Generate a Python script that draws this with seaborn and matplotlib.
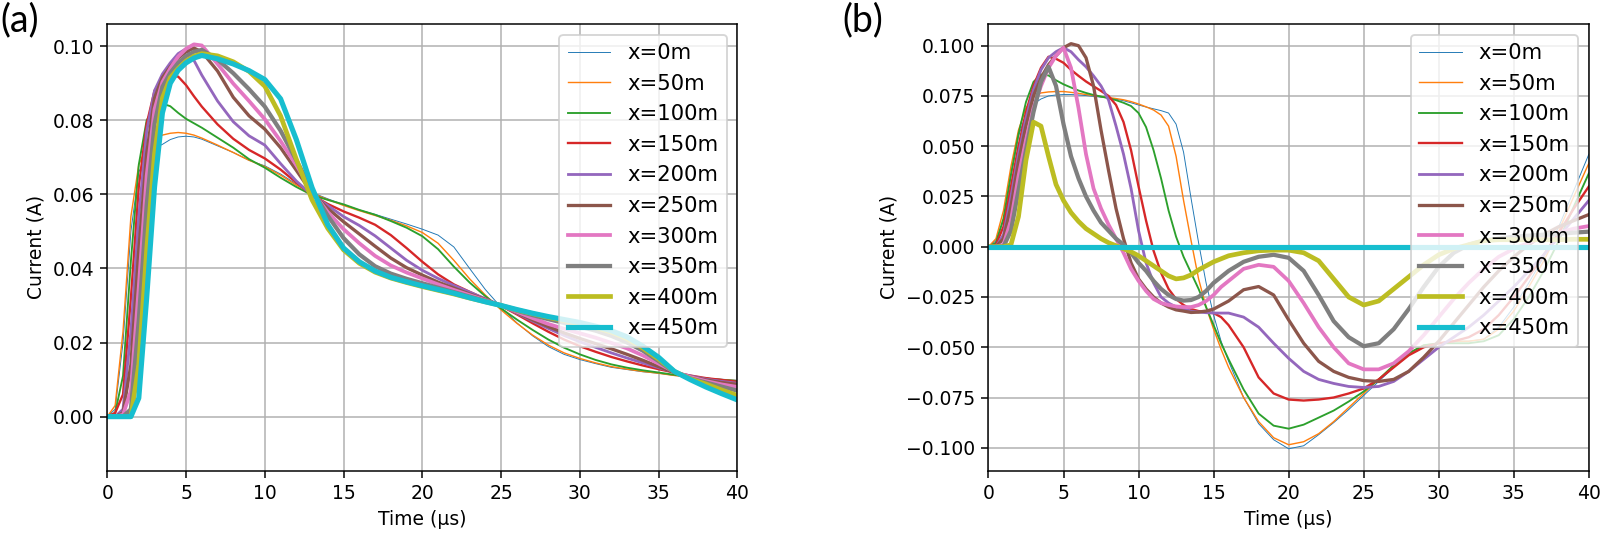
import matplotlib
matplotlib.use("Agg")
import matplotlib.pyplot as plt
import pandas as pd
import seaborn as sns
from matplotlib.ticker import MultipleLocator

labels = ["x=0m", "x=50m", "x=100m", "x=150m", "x=200m",
          "x=250m", "x=300m", "x=350m", "x=400m", "x=450m"]

# ---- panel (a): time axis (us) and currents (A) ----
t_a = [0, 0.5, 1, 1.5, 2, 2.5, 3, 3.5, 4, 4.5, 5, 5.5, 6,
       7, 8, 9, 10, 11, 12, 13, 14, 15, 16, 17, 18, 19, 20,
       21, 22, 23, 24, 25, 26, 27, 28, 29, 30, 31, 32, 33, 34,
       35, 36, 37, 38, 39, 40]

a_0m = [0, 0.002, 0.020, 0.050, 0.066, 0.0705, 0.0725, 0.0735, 0.0748, 0.0755, 0.0757, 0.0755, 0.0749,
        0.0731, 0.0713, 0.0692, 0.0677, 0.0655, 0.0628, 0.0605, 0.0588, 0.0572, 0.0558, 0.0546, 0.0533,
        0.0520, 0.0506, 0.0490, 0.0458, 0.0400, 0.0343, 0.0295, 0.0253, 0.0218, 0.0189, 0.0168, 0.0154,
        0.0143, 0.0133, 0.0127, 0.0121, 0.0117, 0.0111, 0.0107, 0.0104, 0.0101, 0.0098]
a_50m = [0, 0.003, 0.023, 0.054, 0.068, 0.0728, 0.0750, 0.0760, 0.0765, 0.0767, 0.0765, 0.0760, 0.0752,
         0.0733, 0.0713, 0.0692, 0.0675, 0.0652, 0.0625, 0.0603, 0.0586, 0.0570, 0.0556, 0.0543, 0.0530,
         0.0515, 0.0497, 0.0468, 0.0422, 0.0372, 0.0328, 0.0288, 0.0252, 0.0220, 0.0193, 0.0172, 0.0157,
         0.0145, 0.0135, 0.0128, 0.0122, 0.0117, 0.0111, 0.0107, 0.0103, 0.0100, 0.0097]
a_100m = [0, 0.001, 0.011, 0.042, 0.068, 0.080, 0.0835, 0.0845, 0.0838, 0.0820, 0.0804, 0.0792, 0.0780,
          0.0753, 0.0726, 0.0695, 0.0672, 0.0645, 0.0620, 0.0598, 0.0585, 0.0573, 0.0558, 0.0545, 0.0528,
          0.0510, 0.0487, 0.0452, 0.0405, 0.0362, 0.0325, 0.0292, 0.0262, 0.0234, 0.0208, 0.0186, 0.0168,
          0.0153, 0.0141, 0.0132, 0.0125, 0.0119, 0.0113, 0.0108, 0.0103, 0.0099, 0.0096]
a_150m = [0, 0.001, 0.006, 0.032, 0.062, 0.079, 0.088, 0.091, 0.092, 0.0918, 0.0895, 0.0865, 0.0837,
          0.0789, 0.0750, 0.0720, 0.0697, 0.0667, 0.0632, 0.0598, 0.0574, 0.0554, 0.0537, 0.0518, 0.0490,
          0.0455, 0.0418, 0.0384, 0.0357, 0.0337, 0.0318, 0.0299, 0.0276, 0.0252, 0.0229, 0.0208, 0.0190,
          0.0175, 0.0161, 0.0149, 0.0138, 0.0128, 0.0119, 0.0111, 0.0104, 0.0099, 0.0094]
a_200m = [0, 0, 0.002, 0.023, 0.054, 0.077, 0.088, 0.0925, 0.0955, 0.0980, 0.0993, 0.0962, 0.0922,
          0.0852, 0.0796, 0.0758, 0.0733, 0.0683, 0.0636, 0.0598, 0.0570, 0.0540, 0.0516, 0.0488, 0.0455,
          0.0422, 0.0395, 0.0373, 0.0354, 0.0336, 0.0318, 0.0300, 0.0279, 0.0258, 0.0238, 0.0219, 0.0202,
          0.0187, 0.0172, 0.0158, 0.0145, 0.0132, 0.0120, 0.0110, 0.0101, 0.0095, 0.0090]
a_250m = [0, 0, 0.001, 0.014, 0.045, 0.071, 0.086, 0.0915, 0.0945, 0.0968, 0.0985, 0.0995, 0.0985,
          0.0933, 0.0862, 0.0812, 0.0776, 0.0726, 0.0665, 0.0603, 0.0562, 0.0526, 0.0493, 0.0460, 0.0428,
          0.0402, 0.0382, 0.0363, 0.0347, 0.0331, 0.0316, 0.0300, 0.0281, 0.0261, 0.0243, 0.0226, 0.0211,
          0.0197, 0.0183, 0.0168, 0.0152, 0.0135, 0.0119, 0.0108, 0.0099, 0.0092, 0.0087]
a_300m = [0, 0, 0.0005, 0.007, 0.035, 0.065, 0.083, 0.0903, 0.0940, 0.0972, 0.0993, 0.1005, 0.1002,
          0.0952, 0.0899, 0.0852, 0.0803, 0.0744, 0.0679, 0.0608, 0.0552, 0.0506, 0.0468, 0.0434, 0.0408,
          0.0389, 0.0373, 0.0357, 0.0342, 0.0328, 0.0314, 0.0300, 0.0283, 0.0266, 0.0250, 0.0237, 0.0225,
          0.0213, 0.0199, 0.0184, 0.0165, 0.0143, 0.0121, 0.0107, 0.0096, 0.0087, 0.0080]
a_350m = [0, 0, 0, 0.002, 0.026, 0.057, 0.079, 0.089, 0.0928, 0.0955, 0.0973, 0.0985, 0.0990,
          0.0964, 0.0927, 0.0884, 0.0837, 0.0772, 0.0692, 0.0612, 0.0542, 0.0482, 0.0438, 0.0406, 0.0386,
          0.0372, 0.0360, 0.0348, 0.0336, 0.0324, 0.0312, 0.0300, 0.0286, 0.0274, 0.0263, 0.0253, 0.0243,
          0.0232, 0.0218, 0.0200, 0.0178, 0.0150, 0.0120, 0.0103, 0.0092, 0.0081, 0.0070]
a_400m = [0, 0, 0, 0, 0.014, 0.045, 0.071, 0.086, 0.0915, 0.0940, 0.0960, 0.0973, 0.0980,
          0.0974, 0.0958, 0.0932, 0.0892, 0.0812, 0.0695, 0.0585, 0.0508, 0.0450, 0.0414, 0.0390, 0.0374,
          0.0362, 0.0351, 0.0341, 0.0331, 0.0320, 0.0310, 0.0300, 0.0288, 0.0278, 0.0268, 0.0259, 0.0250,
          0.0240, 0.0228, 0.0210, 0.0185, 0.0155, 0.0122, 0.0102, 0.0088, 0.0072, 0.0057]
a_450m = [0, 0, 0, 0, 0.005, 0.032, 0.062, 0.082, 0.0900, 0.0935, 0.0955, 0.0968, 0.0975,
          0.0966, 0.0952, 0.0934, 0.0910, 0.0858, 0.0748, 0.0618, 0.0518, 0.0455, 0.0418, 0.0393, 0.0376,
          0.0364, 0.0353, 0.0343, 0.0333, 0.0321, 0.0310, 0.0300, 0.0289, 0.0279, 0.0270, 0.0262, 0.0254,
          0.0244, 0.0232, 0.0215, 0.0190, 0.0160, 0.0122, 0.0100, 0.0080, 0.0062, 0.0045]

# ---- panel (b) ----
t_b = [0, 0.5, 1, 1.5, 2, 2.5, 3, 3.5, 4, 4.5, 5, 5.5, 6, 6.5, 7, 7.5, 8,
       8.5, 9, 9.5, 10, 10.5, 11, 11.5, 12, 12.5, 13, 13.5, 14, 14.5, 15, 15.5, 16,
       17, 18, 19, 20, 21, 22, 23, 24, 25, 26, 27, 28,
       29, 30, 31, 32, 33, 34, 35, 36, 37, 38, 39, 40]

b_0m = [0, 0.003, 0.013, 0.035, 0.055, 0.066, 0.071, 0.0735, 0.0750, 0.0755, 0.0757, 0.0757, 0.0755,
        0.0752, 0.0748, 0.0744, 0.0740, 0.0734, 0.0726, 0.0716, 0.0705, 0.0695, 0.0686, 0.0677, 0.0665,
        0.061, 0.047, 0.024, 0.002, -0.018, -0.034, -0.047, -0.057,
        -0.075, -0.088, -0.096, -0.1005, -0.099, -0.0935, -0.0875, -0.081, -0.074, -0.067, -0.060, -0.054,
        -0.050, -0.048, -0.047, -0.047, -0.046, -0.040, -0.030, -0.018, -0.005, 0.010, 0.028, 0.046]
b_50m = [0, 0.004, 0.018, 0.040, 0.058, 0.069, 0.0745, 0.0765, 0.0770, 0.0772, 0.0772, 0.0768, 0.0763,
         0.0757, 0.0752, 0.0747, 0.0742, 0.0737, 0.0731, 0.0722, 0.0710, 0.0696, 0.0680, 0.0655, 0.0600,
         0.045, 0.023, 0.003, -0.016, -0.030, -0.041, -0.051, -0.060,
         -0.075, -0.087, -0.095, -0.0985, -0.097, -0.093, -0.087, -0.080, -0.073, -0.066, -0.059, -0.053,
         -0.049, -0.048, -0.047, -0.047, -0.046, -0.041, -0.032, -0.020, -0.007, 0.008, 0.025, 0.0415]
b_100m = [0, 0.002, 0.014, 0.036, 0.056, 0.072, 0.082, 0.0857, 0.0852, 0.0828, 0.0808, 0.0792, 0.0777,
          0.0765, 0.0755, 0.0747, 0.0739, 0.0729, 0.0716, 0.0700, 0.0665, 0.0595, 0.0480, 0.0340, 0.0180,
          0.005, -0.005, -0.013, -0.021, -0.030, -0.039, -0.048, -0.056,
          -0.071, -0.083, -0.089, -0.0905, -0.0885, -0.085, -0.0815, -0.077, -0.072, -0.066, -0.059, -0.053,
          -0.049, -0.048, -0.048, -0.048, -0.047, -0.044, -0.036, -0.025, -0.012, 0.003, 0.020, 0.0365]
b_150m = [0, 0.001, 0.010, 0.030, 0.050, 0.067, 0.080, 0.089, 0.0945, 0.0935, 0.0915, 0.0880, 0.0850,
          0.0822, 0.0798, 0.0775, 0.0750, 0.0705, 0.0620, 0.0480, 0.0300, 0.0130, -0.002, -0.013, -0.021,
          -0.026, -0.029, -0.031, -0.032, -0.0325, -0.033, -0.035, -0.039,
          -0.050, -0.065, -0.073, -0.076, -0.0765, -0.076, -0.075, -0.073, -0.0705, -0.066, -0.060, -0.054,
          -0.050, -0.048, -0.047, -0.045, -0.041, -0.034, -0.025, -0.015, -0.004, 0.007, 0.019, 0.030]
b_200m = [0, 0, 0.006, 0.025, 0.046, 0.064, 0.078, 0.088, 0.094, 0.097, 0.099, 0.097, 0.093,
          0.0895, 0.085, 0.080, 0.073, 0.060, 0.046, 0.029, 0.008, -0.008, -0.018, -0.025, -0.028,
          -0.030, -0.031, -0.032, -0.0325, -0.0328, -0.033, -0.033, -0.033,
          -0.035, -0.040, -0.048, -0.0555, -0.062, -0.066, -0.068, -0.0695, -0.070, -0.0695, -0.067, -0.062,
          -0.056, -0.050, -0.045, -0.040, -0.034, -0.027, -0.020, -0.012, -0.004, 0.005, 0.014, 0.023]
b_250m = [0, 0, 0.004, 0.020, 0.042, 0.060, 0.075, 0.084, 0.0905, 0.095, 0.099, 0.101, 0.100,
          0.094, 0.080, 0.058, 0.038, 0.019, 0.004, -0.008, -0.016, -0.021, -0.025, -0.028, -0.030,
          -0.0314, -0.032, -0.0327, -0.0325, -0.032, -0.031, -0.029, -0.027,
          -0.0214, -0.0198, -0.024, -0.0364, -0.048, -0.057, -0.062, -0.065, -0.0666, -0.067, -0.066, -0.062,
          -0.055, -0.047, -0.038, -0.029, -0.020, -0.012, -0.005, 0.001, 0.006, 0.010, 0.013, 0.016]
b_300m = [0, 0, 0.001, 0.013, 0.035, 0.053, 0.069, 0.080, 0.089, 0.095, 0.099, 0.089, 0.069,
          0.046, 0.029, 0.019, 0.011, 0.004, -0.003, -0.011, -0.017, -0.022, -0.026, -0.028, -0.029,
          -0.0297, -0.030, -0.030, -0.029, -0.027, -0.024, -0.020, -0.017,
          -0.011, -0.009, -0.010, -0.017, -0.028, -0.040, -0.050, -0.058, -0.061, -0.061, -0.058, -0.052,
          -0.044, -0.035, -0.026, -0.018, -0.011, -0.005, -0.001, 0.002, 0.005, 0.007, 0.009, 0.0103]
b_350m = [0, 0, 0, 0.008, 0.028, 0.048, 0.067, 0.082, 0.0895, 0.080, 0.061, 0.045, 0.034,
          0.025, 0.018, 0.012, 0.008, 0.004, 0.001, -0.003, -0.008, -0.012, -0.017, -0.021, -0.024,
          -0.026, -0.0268, -0.0265, -0.025, -0.022, -0.018, -0.015, -0.012,
          -0.0075, -0.005, -0.004, -0.0055, -0.012, -0.024, -0.037, -0.045, -0.0495, -0.048, -0.041, -0.031,
          -0.020, -0.010, -0.003, 0.001, 0.003, 0.004, 0.005, 0.0055, 0.006, 0.0065, 0.007, 0.0075]
b_400m = [0, 0, 0, 0.001, 0.015, 0.043, 0.062, 0.060, 0.045, 0.031, 0.023, 0.017, 0.0126,
          0.009, 0.0065, 0.004, 0.002, 0.0005, -0.001, -0.0025, -0.0045, -0.007, -0.0095, -0.012, -0.0145,
          -0.016, -0.0155, -0.014, -0.0115, -0.0095, -0.0075, -0.006, -0.0045,
          -0.003, -0.002, -0.0017, -0.0017, -0.003, -0.007, -0.016, -0.025, -0.029, -0.027, -0.021, -0.015,
          -0.009, -0.004, -0.001, 0.001, 0.003, 0.0035, 0.0035, 0.0035, 0.0035, 0.0035, 0.0037, 0.0037]
b_450m = [0, 0, 0, 0, 0, 0, 0, 0, 0, 0, 0, 0, 0,
          0, 0, 0, 0, 0, 0, 0, 0, 0, 0, 0, 0,
          0, 0, 0, 0, 0, 0, 0, 0,
          0, 0, 0, 0, 0, 0, 0, 0, 0, 0, 0, 0,
          0, 0, 0, 0, 0, 0, 0, 0, 0, 0, 0, 0]

series_a = [a_0m, a_50m, a_100m, a_150m, a_200m, a_250m, a_300m, a_350m, a_400m, a_450m]
series_b = [b_0m, b_50m, b_100m, b_150m, b_200m, b_250m, b_300m, b_350m, b_400m, b_450m]


def long_frame(t, series):
    parts = []
    for lab, vals in zip(labels, series):
        parts.append(pd.DataFrame({"t": t, "i": vals, "pos": lab}))
    return pd.concat(parts, ignore_index=True)


widths = {lab: 0.5 + 0.25 * k for k, lab in enumerate(labels)}

DPI = 135
fig = plt.figure(figsize=(1601 / DPI, 533 / DPI), dpi=DPI)
ax_a = fig.add_axes([0.0670, 0.1169, 0.3936, 0.8381])
ax_b = fig.add_axes([0.6174, 0.1169, 0.3750, 0.8381])

for ax, t, series in [(ax_a, t_a, series_a), (ax_b, t_b, series_b)]:
    df = long_frame(t, series)
    sns.lineplot(data=df, x="t", y="i", hue="pos", size="pos",
                 hue_order=labels, size_order=labels, palette="tab10",
                 sizes=widths, estimator=None, sort=False, ax=ax)
    old = ax.get_legend()
    handles = old.legend_handles
    texts = [tx.get_text() for tx in old.get_texts()]
    old.remove()
    ax.legend(handles, texts, loc="upper right", fontsize=11.3)
    ax.grid(True)
    ax.set_xlim(0, 40)
    ax.xaxis.set_major_locator(MultipleLocator(5))
    ax.set_xlabel("Time (\u00b5s)")
    ax.set_ylabel("Current (A)")

ax_a.set_ylim(-0.0146, 0.106)
ax_a.yaxis.set_major_locator(MultipleLocator(0.02))
ax_b.set_ylim(-0.1114, 0.1108)
ax_b.yaxis.set_major_locator(MultipleLocator(0.025))

fig.text(0.0005, 1 - 2 / 533, "(a)", fontsize=20, family=["Lato", "DejaVu Sans"], va="top", ha="left")
fig.text(842 / 1601, 1 - 2 / 533, "(b)", fontsize=20, family=["Lato", "DejaVu Sans"], va="top", ha="left")

fig.savefig("out.png", dpi=DPI)
